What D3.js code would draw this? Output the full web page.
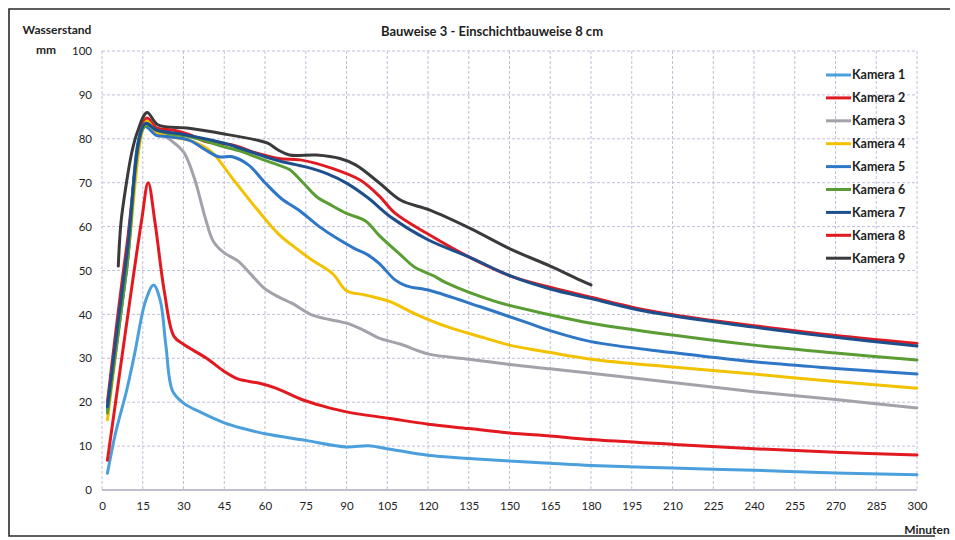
<!DOCTYPE html>
<html>
<head>
<meta charset="utf-8">
<script src="https://cdn.jsdelivr.net/npm/d3@7"></script>
<style>
  body { margin: 0; background: #fff; }
  text { font-family: Lato, "Open Sans", sans-serif; fill: #1e1e1e; }
</style>
</head>
<body>
<div id="chart"></div>
<script>
// tick labels
const xTicks = d3.range(0, 301, 15);
const yTicks = d3.range(0, 101, 10);

// series: [minute, water level mm]
const kamera1 = [[2,3.8],[5,13],[9,22.5],[12,31],[16,43],[19,46.7],[21.5,43],[23.5,33],[26,22.5],[30,19.8],[37,17.5],[45,15.3],[52,14],[60,12.8],[75,11.3],[90,9.8],[98,10.1],[106,9.3],[120,7.9],[135,7.2],[150,6.6],[165,6.1],[180,5.6],[210,5],[240,4.5],[270,3.9],[300,3.5]];
const kamera2 = [[2,20],[9,55],[16.4,84.7],[20,82.5],[26,82],[32,81],[38.5,79.3],[48,78.6],[57,76.7],[65,75.5],[73,75.2],[85,73.2],[95,70.6],[102,67],[108,63],[120,58.3],[135,53.1],[151,48.6],[165,46.2],[180,43.9],[200,41],[220,39],[240,37.4],[270,35.2],[300,33.4]];
const kamera3 = [[2,18.5],[9,52],[16,83.5],[20,81.8],[25,79.8],[30,77],[34,71],[38,62],[41,56.6],[45,54],[50,52.2],[55,49],[60,45.8],[65,44],[70,42.5],[78,39.7],[90,38],[96,36.5],[102,34.6],[110,33.2],[120,31],[135,29.8],[150,28.6],[165,27.6],[180,26.6],[210,24.5],[240,22.4],[270,20.6],[300,18.7]];
const kamera4 = [[2,16],[9,50],[16.5,84],[20,81.5],[25,80.5],[32,79.7],[40,77.2],[48,71],[57,64],[65,58.3],[72,54.8],[77,52.5],[85,49.2],[90,45.4],[97,44.4],[106,42.9],[115,40.2],[127,37.2],[141,34.6],[150,33],[165,31.3],[180,29.8],[210,28],[240,26.4],[270,24.7],[300,23.2]];
const kamera5 = [[2,18],[9,50],[15.5,82.8],[20,80.8],[24,80.5],[32,79.7],[38,77.5],[43,75.9],[48,75.9],[54,74],[60,70],[66,66.4],[73,63.5],[80,60],[86,57.5],[93,55],[98,53.5],[102,51.6],[108,47.8],[112,46.5],[121,45.4],[139,41.8],[157,38],[165,36.3],[180,33.8],[210,31.3],[240,29.2],[270,27.7],[300,26.4]];
const kamera6 = [[2,17.5],[9,50],[16,83],[20,82],[26,81],[32,80.5],[45,78.2],[52,77],[59,75.3],[65,74],[69,73],[74,70],[79,66.8],[84,65],[90,63],[97,61.3],[102,58],[110,53.5],[115,50.8],[122,48.8],[127,47.1],[145,42.9],[165,39.9],[180,38],[210,35.3],[240,33],[270,31.2],[300,29.6]];
const kamera7 = [[2,19],[9,53],[16,83.5],[20,82],[30,81],[45,79],[55,77],[65,75],[75,73.6],[83,72],[90,69.9],[98,66.5],[106,62.3],[120,57],[135,53.1],[151,48.6],[165,45.8],[180,43.6],[200,40.7],[240,37.1],[270,34.8],[300,32.8]];
const kamera8 = [[2,6.8],[5,20],[10,42],[14.6,61.5],[17,70],[19.5,61],[23,45],[26.5,35],[30,33.2],[38.5,30],[45,27],[50,25.3],[58,24.3],[64,23.2],[74,20.5],[82,19],[90,17.8],[106,16.3],[120,15],[135,14],[150,13],[165,12.3],[180,11.5],[210,10.4],[240,9.4],[270,8.6],[300,8]];
const kamera9 = [[6,51],[7,61],[9,70],[11,77],[13,81.5],[16.6,86],[20.5,83.2],[32,82.4],[45,81.1],[57,79.7],[61,79],[65,77.4],[69,76.3],[79,76.3],[87.6,75.5],[93.5,74],[102,70],[110,66],[120.5,63.8],[135.5,59.6],[151,54.7],[165,51],[176,47.8],[180,46.7]];

const names = ['Kamera 1','Kamera 2','Kamera 3','Kamera 4','Kamera 5','Kamera 6','Kamera 7','Kamera 8','Kamera 9'];
const colors = ['#4a9fdc','#e01a22','#a2a2aa','#f2c100','#2e76c6','#5a9d34','#1d4f8c','#e2191f','#3a3a3c'];
const seriesData = [kamera1, kamera2, kamera3, kamera4, kamera5, kamera6, kamera7, kamera8, kamera9];

const W = 955, H = 540;
const margin = {top: 51, right: 38, bottom: 50, left: 102},
      width = W - margin.left - margin.right,
      height = H - margin.top - margin.bottom;

const root = d3.select('#chart').append('svg')
    .attr('width', W)
    .attr('height', H);

// frame of the scanned chart
root.append('path')
    .attr('d', 'M950,9 L9,9 L9,536 L935,536')
    .attr('fill', 'none')
    .attr('stroke', '#2a2a2a')
    .attr('stroke-width', 1.6);

const svg = root.append('g')
    .attr('transform', 'translate(' + margin.left + ',' + margin.top + ')');

const x = d3.scaleLinear().domain([0, 300]).range([0, width]);
const y = d3.scaleLinear().domain([0, 100]).range([height, 0]);

// grid
svg.append('g').selectAll('line.h')
    .data(yTicks)
    .enter().append('line')
    .attr('x1', 0).attr('x2', width)
    .attr('y1', (d) => y(d)).attr('y2', (d) => y(d))
    .attr('stroke', (d) => d === 0 ? '#a9aac4' : '#bfc0da')
    .attr('stroke-width', (d) => d === 0 ? 1.4 : 1)
    .attr('stroke-dasharray', (d) => d === 0 ? null : '3,2');

svg.append('g').selectAll('line.v')
    .data(xTicks)
    .enter().append('line')
    .attr('x1', (d) => x(d)).attr('x2', (d) => x(d))
    .attr('y1', 0).attr('y2', height)
    .attr('stroke', '#bfc0da')
    .attr('stroke-dasharray', '3,2');

// axes
svg.append('g')
    .attr('class', 'axis axis--x')
    .attr('transform', 'translate(0,' + height + ')')
    .call(d3.axisBottom(x).tickValues(xTicks).tickSize(0).tickPadding(12))
    .call((g) => g.select('.domain').remove())
    .selectAll('text')
    .style('font-size', '11.5px')
    .style('font-family', 'Lato, sans-serif');

svg.append('g')
    .attr('class', 'axis axis--y')
    .call(d3.axisLeft(y).tickValues(yTicks).tickSize(0).tickPadding(10))
    .call((g) => g.select('.domain').remove())
    .selectAll('text')
    .style('font-size', '11.5px')
    .style('font-family', 'Lato, sans-serif');

// lines
const line = d3.line()
    .x((d) => x(d[0]))
    .y((d) => y(d[1]))
    .curve(d3.curveCatmullRom.alpha(0.5));

svg.selectAll('.serie')
    .data(seriesData)
    .enter()
    .append('path')
    .attr('class', 'serie')
    .attr('d', (d) => line(d))
    .attr('fill', 'none')
    .attr('stroke', (d, i) => colors[i])
    .attr('stroke-width', 3)
    .attr('stroke-linejoin', 'round')
    .attr('stroke-linecap', 'round');

// legend
const legend = svg.append('g')
    .attr('transform', 'translate(' + (826 - margin.left) + ',' + (75 - margin.top) + ')');

const item = legend.selectAll('.item')
    .data(names)
    .enter()
    .append('g')
    .attr('transform', (d, i) => 'translate(0,' + (i * 22.9) + ')');

item.append('line')
    .attr('x1', 0).attr('x2', 25)
    .attr('stroke', (d, i) => colors[i])
    .attr('stroke-width', 3);

item.append('text')
    .attr('x', 26)
    .attr('dy', '0.35em')
    .style('font-size', '12.5px')
    .style('font-weight', 'bold')
    .text((d) => d);

// titles
root.append('text')
    .attr('x', 492).attr('y', 36)
    .attr('text-anchor', 'middle')
    .style('font-size', '13px')
    .style('font-weight', 'bold')
    .text('Bauweise 3 - Einschichtbauweise 8 cm');

root.append('text')
    .attr('x', 57).attr('y', 34)
    .attr('text-anchor', 'middle')
    .style('font-size', '12px')
    .style('font-weight', 'bold')
    .text('Wasserstand');

root.append('text')
    .attr('x', 46).attr('y', 54)
    .attr('text-anchor', 'middle')
    .style('font-size', '12px')
    .style('font-weight', 'bold')
    .text('mm');

root.append('text')
    .attr('x', 927).attr('y', 534)
    .attr('text-anchor', 'middle')
    .style('font-size', '12px')
    .style('font-weight', 'bold')
    .text('Minuten');
</script>
</body>
</html>
